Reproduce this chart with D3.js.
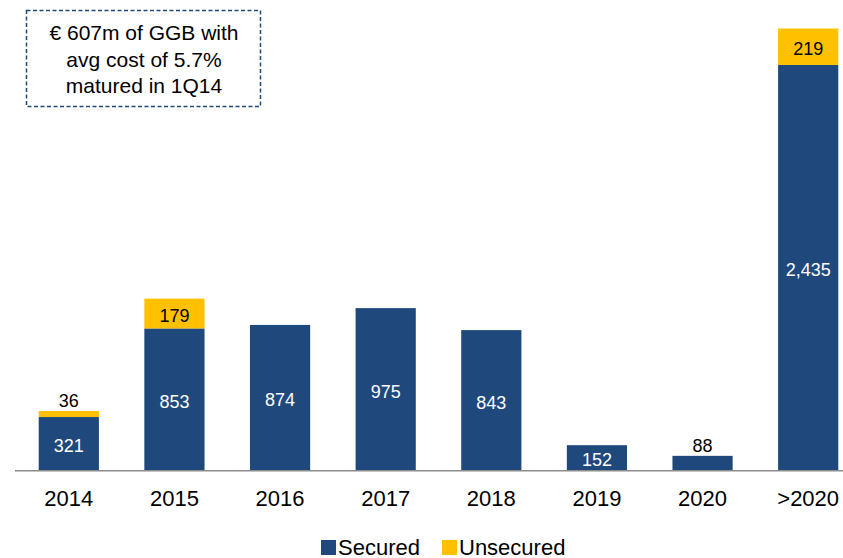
<!DOCTYPE html>
<html>
<head>
<meta charset="utf-8">
<script src="https://cdn.jsdelivr.net/npm/d3@7"></script>
<style>
    body { margin: 0; background: #ffffff; }
    svg { display: block; font-family: "Liberation Sans", Arial, sans-serif; }
</style>
</head>
<body>
<div id="chart"></div>
<script>
// Debt maturity profile (EUR m)
const categories = ['2014', '2015', '2016', '2017', '2018', '2019', '2020', '>2020'];
const secured = [321, 853, 874, 975, 843, 152, 88, 2435];
const unsecured = [36, 179, 0, 0, 0, 0, 0, 219];
const seriesNames = ['Secured', 'Unsecured'];
const noteLines = ['\u20ac 607m of GGB with', 'avg cost of 5.7%', 'matured in 1Q14'];

let width = 843,
    height = 558,
    colors = {Secured: '#1f497d', Unsecured: '#ffc000'};

let svg = d3.select('#chart')
    .append('svg')
    .attr('width', width)
    .attr('height', height);

let rows = categories.map(function(c, i) {
    return {category: c, Secured: secured[i], Unsecured: unsecured[i]};
});

let stack = d3.stack().keys(seriesNames)(rows);

let x = d3.scaleBand()
    .domain(categories)
    .range([16, 861])
    .paddingInner(0.43)
    .paddingOuter(0.215);

let y = d3.scaleLinear()
    .domain([0, d3.max(rows, d => d.Secured + d.Unsecured)])
    .range([470.5, 28.5]);

// Bars
let layers = svg.selectAll('g.layer')
    .data(stack)
    .enter()
    .append('g')
    .attr('class', 'layer')
    .attr('fill', d => colors[d.key]);

layers.selectAll('rect')
    .data(d => d.filter(p => p[1] > p[0]).map(p => ({key: d.key, p: p})))
    .enter()
    .append('rect')
    .attr('x', d => x(d.p.data.category))
    .attr('width', x.bandwidth())
    .attr('y', d => y(d.p[1]))
    .attr('height', d => y(d.p[0]) - y(d.p[1]));

// Value labels: inside the segment, or above the bar when the segment is thin
layers.selectAll('text')
    .data(d => d.filter(p => p[1] > p[0]).map(p => ({key: d.key, p: p})))
    .enter()
    .append('text')
    .attr('text-anchor', 'middle')
    .attr('dominant-baseline', 'central')
    .style('font-size', '18px')
    .each(function(d) {
        let h = y(d.p[0]) - y(d.p[1]);
        let inside = h >= 20;
        d3.select(this)
            .attr('x', x(d.p.data.category) + x.bandwidth() / 2)
            .attr('y', inside ? (y(d.p[0]) + y(d.p[1])) / 2 + 2.5 : y(d.p[1]) - 10)
            .attr('fill', inside && d.key === 'Secured' ? '#ffffff' : '#000000')
            .text(d3.format(',')(d.p[1] - d.p[0]));
    });

// X axis
svg.append('line')
    .attr('x1', 15)
    .attr('x2', width)
    .attr('y1', 470.8)
    .attr('y2', 470.8)
    .style('stroke', '#8c8c8c')
    .style('stroke-width', 1.6);

svg.selectAll('text.tick')
    .data(categories)
    .enter()
    .append('text')
    .attr('class', 'tick')
    .attr('x', d => x(d) + x.bandwidth() / 2)
    .attr('y', 506)
    .attr('text-anchor', 'middle')
    .style('font-size', '22px')
    .attr('fill', '#000000')
    .text(d => d);

// Note box
svg.append('rect')
    .attr('x', 26.5)
    .attr('y', 10.5)
    .attr('width', 234)
    .attr('height', 96)
    .attr('fill', 'none')
    .style('stroke', '#1f497d')
    .style('stroke-width', 1.5)
    .style('stroke-dasharray', '4,2.5');

svg.selectAll('text.note')
    .data(noteLines)
    .enter()
    .append('text')
    .attr('class', 'note')
    .attr('x', 144)
    .attr('y', (d, i) => 40 + i * 26.5)
    .attr('text-anchor', 'middle')
    .style('font-size', '21px')
    .attr('fill', '#000000')
    .text(d => d);

// Legend
let legendX = [321, 442];
let legend = svg.selectAll('g.legend')
    .data(seriesNames)
    .enter()
    .append('g')
    .attr('class', 'legend')
    .attr('transform', (d, i) => 'translate(' + legendX[i] + ',540)');

legend.append('rect')
    .attr('width', 15)
    .attr('height', 15)
    .attr('fill', d => colors[d]);

legend.append('text')
    .attr('x', 17)
    .attr('y', 15)
    .style('font-size', '22px')
    .attr('fill', '#000000')
    .text(d => d);
</script>
</body>
</html>
